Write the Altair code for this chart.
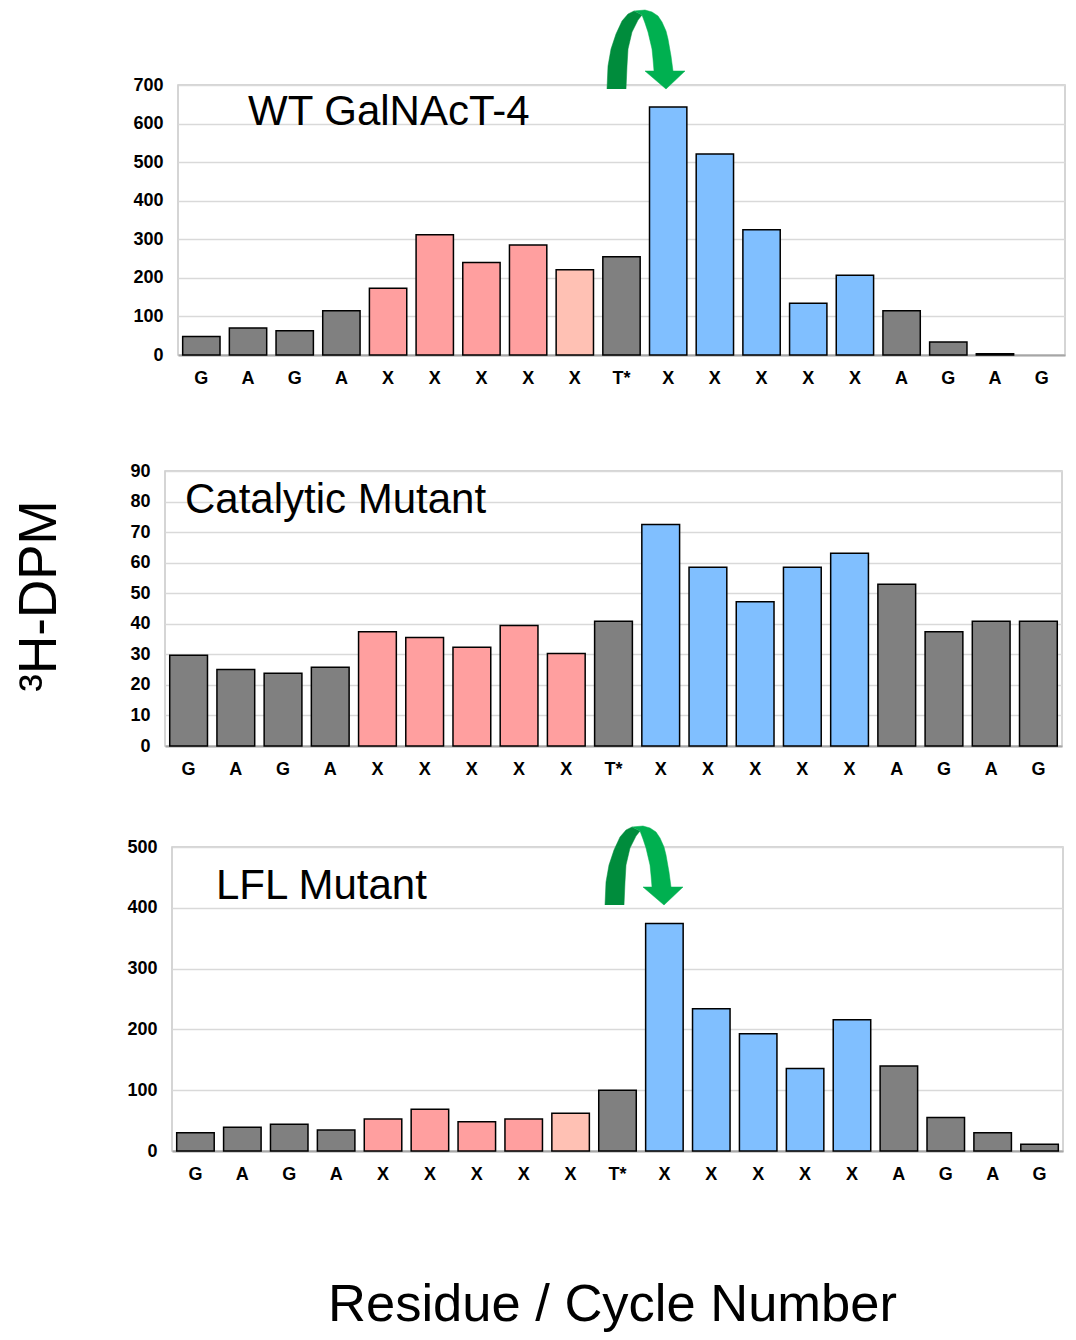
import json
import altair as alt
import pandas as pd

# ---------------- data ----------------
residues = ["G", "A", "G", "A", "X", "X", "X", "X", "X", "T*",
            "X", "X", "X", "X", "X", "A", "G", "A", "G"]

wt_groups = (["flank"] * 4 + ["site"] * 4 + ["weak"] + ["flank"]
             + ["target"] * 5 + ["flank"] * 4)
cat_groups = (["flank"] * 4 + ["site"] * 5 + ["flank"]
              + ["target"] * 5 + ["flank"] * 4)
lfl_groups = wt_groups

wt_values = [48, 70, 63, 115, 173, 312, 240, 285, 221, 255,
             643, 521, 325, 134, 207, 115, 34, 3, 0]
cat_values = [29.7, 25.0, 23.8, 25.8, 37.4, 35.5, 32.3, 39.4, 30.3, 40.8,
              72.5, 58.5, 47.2, 58.5, 63.1, 52.9, 37.4, 40.8, 40.8]
lfl_values = [30, 39, 44, 34.5, 52.6, 68.5, 48, 52.6, 62, 100,
              374, 234, 193, 135.5, 216, 140, 55, 30, 11]

group_names = ["flank", "site", "weak", "target"]
group_colors = ["#808080", "#FF9F9F", "#FFC1B4", "#80BFFF"]

y_title = "³H-DPM"
x_title = "Residue / Cycle Number"

# decorative curved arrow outline (pixel offsets from the arrow's left foot)
arrow_dark = [(0, 0), (1, -23), (4, -40), (9, -55), (15, -68), (21, -75), (27, -78),
              (35, -74), (31, -69), (25, -57), (21, -40), (20, -23), (19, 0)]
arrow_light = [(27, -78), (38, -79), (45, -77), (51, -73), (55, -67), (59, -58),
               (61, -50), (64, -33), (66, -18), (78, -18), (59, 0), (38, -18),
               (47, -18), (46, -30), (45, -40), (41, -57), (38, -66), (35, -74)]

FONT = "Liberation Sans"
TICK_SIZE = 18
label_expr = json.dumps(residues) + "[datum.value]"


def arrow_layers(ax, ay):
    out = []
    for pts, col in ((arrow_dark, "#008C3C"), (arrow_light, "#00B050")):
        d = pd.DataFrame({"o": list(range(len(pts))),
                          "x": [p[0] + ax for p in pts],
                          "y": [p[1] + ay for p in pts]})
        out.append(
            alt.Chart(d).mark_line(fill=col, stroke=col, strokeWidth=0.5,
                                   interpolate="linear")
            .encode(x=alt.X("x:Q", scale=None, axis=None),
                    y=alt.Y("y:Q", scale=None, axis=None),
                    order=alt.Order("o:Q"))
        )
    return out


def spacer(w, side_title=None):
    layers = [
        alt.Chart(pd.DataFrame({"a": [0]}))
        .mark_rule(strokeOpacity=0, strokeWidth=0.01)
        .encode(x=alt.value(0), x2=alt.value(w), y=alt.value(0))
    ]
    if side_title:
        layers.append(
            alt.Chart(pd.DataFrame({"t": [side_title]}))
            .mark_text(angle=270, align="center", baseline="alphabetic",
                       font=FONT, fontSize=53, color="black")
            .encode(x=alt.value(-68), y=alt.value(125), text="t:N")
        )
    return alt.layer(*layers).properties(
        width=w, height=10, view=alt.ViewBackground(stroke="transparent"))


def make_panel(values, groups, ymax, ystep, width, height, name, name_x, name_y,
               arrow_at=None, top_extra=0, xtitle=None, ylabel_pad=15):
    df = pd.DataFrame({"i": list(range(len(residues))), "v": values, "g": groups})
    xkw = dict(labelExpr=label_expr, labelAngle=0, labelFont=FONT,
               labelFontWeight="bold", labelFontSize=TICK_SIZE, labelColor="black",
               labelPadding=14, ticks=False, domainColor="#A6A6A6",
               domainWidth=2, grid=False)
    if xtitle:
        xaxis = alt.Axis(title=xtitle, titleFont=FONT, titleFontSize=52.5,
                         titleFontWeight="normal", titleColor="black",
                         titlePadding=96, titleX=440, **xkw)
    else:
        xaxis = alt.Axis(title=None, **xkw)
    yaxis = alt.Axis(values=list(range(0, ymax + 1, ystep)), title=None,
                     labelFont=FONT, labelFontWeight="bold", labelFontSize=TICK_SIZE,
                     labelColor="black", labelPadding=ylabel_pad, ticks=False,
                     domain=False, grid=True, gridColor="#D9D9D9", gridWidth=1.5)
    bars = (
        alt.Chart(df).transform_filter("datum.v > 0")
        .mark_bar(stroke="black", strokeWidth=1.5)
        .encode(
            x=alt.X("i:O", scale=alt.Scale(domain=list(range(len(residues))),
                                           paddingInner=0.2, paddingOuter=0.1),
                    axis=xaxis),
            y=alt.Y("v:Q", scale=alt.Scale(domain=[0, ymax], nice=False),
                    axis=yaxis),
            color=alt.Color("g:N", scale=alt.Scale(domain=group_names,
                                                   range=group_colors),
                            legend=None),
        )
    )
    label = (
        alt.Chart(pd.DataFrame({"t": [name]}))
        .mark_text(align="left", baseline="alphabetic", font=FONT, fontSize=42,
                   color="black")
        .encode(x=alt.value(name_x), y=alt.value(name_y), text="t:N")
    )
    layers = [bars, label]
    if arrow_at is not None:
        layers += arrow_layers(*arrow_at)
    if top_extra:
        layers.append(
            alt.Chart(pd.DataFrame({"a": [0]})).mark_rule(strokeOpacity=0)
            .encode(x=alt.value(0), y=alt.value(-top_extra), y2=alt.value(0))
        )
    return (alt.layer(*layers)
            .resolve_scale(x="independent", y="independent")
            .properties(width=width, height=height))


p1 = make_panel(wt_values, wt_groups, 700, 100, 887, 270, "WT GalNAcT-4", 70, 40,
                arrow_at=(429, 4))
p2 = make_panel(cat_values, cat_groups, 90, 10, 897, 275, "Catalytic Mutant", 20, 42,
                top_extra=37)
p3 = make_panel(lfl_values, lfl_groups, 500, 100, 891, 304, "LFL Mutant", 44, 52,
                arrow_at=(433, 58), xtitle=x_title)

row1 = alt.hconcat(spacer(7), p1, spacing=0)
row2 = alt.hconcat(spacer(3.5, y_title), p2, spacing=0)
row3 = alt.hconcat(spacer(1), p3, spacing=0)

chart = (
    alt.vconcat(row1, row2, row3, spacing=45)
    .configure_view(stroke="#C8C8C8", strokeWidth=1.5)
    .properties(padding={"left": 5, "top": 0, "right": 0, "bottom": 0})
)

chart.save("out.html", embed_options={"renderer": "svg", "actions": False})
